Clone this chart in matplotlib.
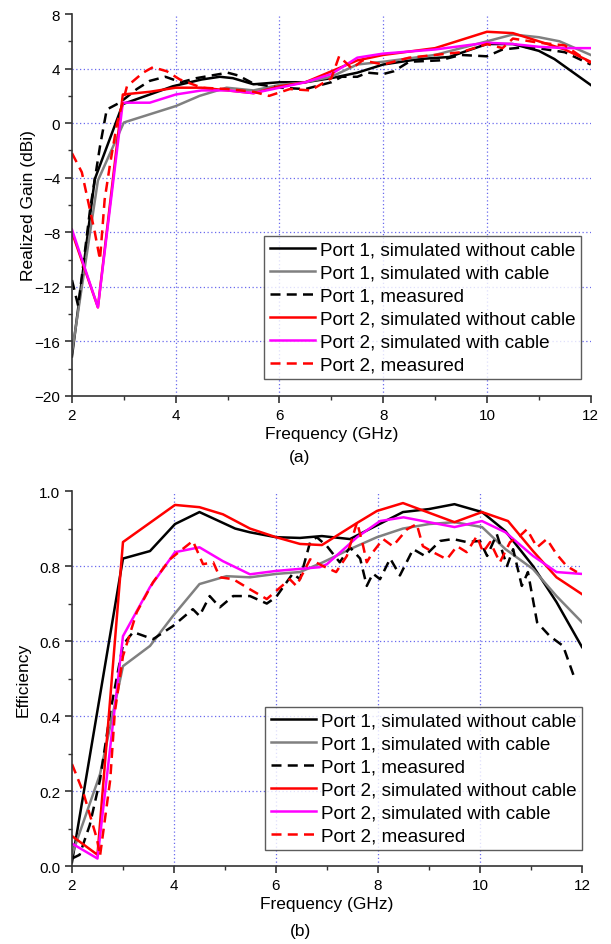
import numpy as np
import matplotlib
matplotlib.use('Agg')
import matplotlib.pyplot as plt
from matplotlib.ticker import MultipleLocator, FormatStrFormatter

plt.rcParams['font.family'] = ['Liberation Sans', 'DejaVu Sans']

labels = ['Port 1, simulated without cable', 'Port 1, simulated with cable',
          'Port 1, measured', 'Port 2, simulated without cable',
          'Port 2, simulated with cable', 'Port 2, measured']

# ---- (a) realized gain ----
g_p1_sim_f = [2, 2.44, 2.98, 3.5, 3.94, 4.5, 4.85, 5.1, 5.5, 6, 6.5, 7, 7.5, 8, 8.7, 9.27, 10, 10.5, 11, 11.3, 12]
g_p1_sim = [-17.1, -4.1, 1.4, 2.1, 2.7, 3.2, 3.4, 3.3, 2.85, 3.0, 3.0, 3.3, 3.7, 4.3, 4.7, 4.85, 5.8, 5.8, 5.3, 4.7, 2.8]

g_p1_cab_f = [2, 2.5, 3.0, 3.5, 4.0, 4.46, 4.98, 5.5, 6, 6.5, 7, 7.5, 8, 9, 10, 10.5, 11, 11.4, 12]
g_p1_cab = [-16.8, -4.2, 0.05, 0.65, 1.25, 2.0, 2.6, 2.4, 2.8, 3.0, 3.4, 4.3, 4.5, 5.0, 6.0, 6.5, 6.3, 6.0, 5.0]

g_p1_meas_f = [2, 2.12, 2.35, 2.54, 2.67, 2.92, 3.25, 3.5, 3.8, 4.1, 4.4, 4.7, 5.0, 5.2, 5.5, 6.0, 6.5, 7.0, 7.2, 7.5, 7.7,
               8.0, 8.2, 8.5, 9.08, 9.5, 10.0, 10.3, 10.8, 11.5, 12]
g_p1_meas = [-11.5, -13.4, -6.3, -1.7, 1.0, 1.5, 2.5, 3.1, 3.4, 3.0, 3.3, 3.5, 3.7, 3.5, 2.9, 2.6, 2.5, 3.0, 3.4, 3.4, 3.7,
             3.6, 3.8, 4.5, 4.6, 5.0, 4.9, 5.4, 5.6, 5.2, 4.3]

g_p2_sim_f = [2, 2.5, 2.98, 3.5, 4.0, 4.5, 5.0, 5.5, 6, 6.5, 7, 7.5, 8, 9, 10, 10.5, 11, 11.5, 12]
g_p2_sim = [-8.0, -13.5, 2.1, 2.3, 2.6, 2.6, 2.4, 2.2, 2.7, 3.0, 3.8, 4.6, 5.0, 5.5, 6.7, 6.6, 6.0, 5.4, 4.5]

g_p2_cab_f = [2, 2.5, 2.98, 3.5, 4.0, 4.5, 5.0, 5.5, 6, 6.5, 7, 7.5, 8, 9, 10, 10.5, 11, 11.5, 12]
g_p2_cab = [-7.8, -13.5, 1.5, 1.5, 2.1, 2.4, 2.4, 2.2, 2.6, 3.0, 3.6, 4.8, 5.1, 5.4, 5.9, 5.8, 5.6, 5.5, 5.5]

g_p2_meas_f = [2, 2.19, 2.44, 2.54, 2.63, 2.73, 2.87, 3.06, 3.37, 3.56, 3.83, 4.08, 4.5, 5.0, 5.5, 5.8, 6.2, 6.6, 7.0,
               7.15, 7.4, 7.6, 8.0, 8.5, 9.0, 9.5, 10.0, 10.3, 10.5, 11.0, 11.5, 12]
g_p2_meas = [-2.2, -3.6, -8.0, -10.0, -5.6, -3.1, 0.0, 2.7, 3.7, 4.1, 3.8, 3.2, 2.6, 2.5, 2.3, 2.0, 2.5, 2.4, 3.3,
             4.9, 4.0, 4.6, 4.3, 4.8, 5.0, 5.2, 5.8, 5.5, 6.2, 5.9, 5.7, 4.4]

# ---- (b) efficiency ----
e_p1_sim_f = [2, 3.0, 3.53, 4.02, 4.5, 5.2, 5.49, 6.0, 6.47, 6.9, 7.45, 8.0, 8.49, 9.0, 9.5, 10.04, 10.5, 11.04, 11.5, 12]
e_p1_sim = [0.01, 0.82, 0.84, 0.912, 0.944, 0.90, 0.89, 0.877, 0.875, 0.88, 0.872, 0.91, 0.944, 0.952, 0.965, 0.944,
            0.893, 0.80, 0.704, 0.584]

e_p1_cab_f = [2, 2.55, 3.0, 3.53, 3.98, 4.5, 5.03, 5.49, 6.0, 6.47, 6.92, 7.45, 7.98, 8.49, 9.0, 9.5, 10.04, 10.5,
              11.04, 11.5, 12]
e_p1_cab = [0.03, 0.245, 0.533, 0.587, 0.667, 0.752, 0.773, 0.77, 0.779, 0.784, 0.81, 0.845, 0.877, 0.9, 0.912, 0.917,
            0.904, 0.845, 0.792, 0.72, 0.65]

e_p1_meas_f = [2, 2.15, 2.35, 2.55, 2.75, 3.0, 3.2, 3.59, 3.98, 4.37, 4.5, 4.7, 4.9, 5.16, 5.49, 5.82, 6.0, 6.33, 6.47,
               6.67, 6.8, 7.0, 7.25, 7.45, 7.65, 7.78, 7.9, 8.04, 8.24, 8.43, 8.69, 8.92, 9.22, 9.47, 9.74, 10.0,
               10.14, 10.33, 10.53, 10.65, 10.82, 10.94, 11.12, 11.37, 11.63, 11.86]
e_p1_meas = [0.02, 0.03, 0.11, 0.23, 0.41, 0.59, 0.624, 0.605, 0.64, 0.685, 0.667, 0.72, 0.69, 0.72, 0.72, 0.70, 0.717,
             0.78, 0.765, 0.864, 0.877, 0.853, 0.81, 0.85, 0.82, 0.747, 0.78, 0.765, 0.82, 0.775, 0.845, 0.827,
             0.867, 0.872, 0.864, 0.867, 0.827, 0.885, 0.80, 0.845, 0.747, 0.784, 0.65, 0.613, 0.587, 0.499]

e_p2_sim_f = [2, 2.5, 3.0, 4.02, 4.5, 4.96, 5.49, 6.0, 6.47, 6.9, 7.59, 7.98, 8.49, 9.5, 10.04, 10.55, 11.04, 11.5, 12]
e_p2_sim = [0.08, 0.03, 0.864, 0.963, 0.957, 0.938, 0.90, 0.877, 0.859, 0.856, 0.915, 0.947, 0.968, 0.917, 0.944, 0.92,
            0.84, 0.77, 0.725]

e_p2_cab_f = [2, 2.5, 3.0, 3.53, 4.02, 4.5, 4.96, 5.49, 6.0, 6.86, 7.0, 7.59, 8.04, 8.5, 9.5, 10.04, 10.5, 11.04,
              11.5, 12]
e_p2_cab = [0.06, 0.02, 0.613, 0.744, 0.837, 0.85, 0.813, 0.778, 0.787, 0.797, 0.805, 0.877, 0.92, 0.93, 0.904, 0.92,
            0.89, 0.827, 0.784, 0.779]

e_p2_meas_f = [2, 2.22, 2.49, 2.55, 2.75, 2.84, 3.0, 3.27, 3.59, 3.92, 4.12, 4.37, 4.57, 4.77, 4.9, 5.16, 5.49, 5.82,
               6.27, 6.4, 6.67, 6.92, 7.18, 7.39, 7.59, 7.71, 7.78, 7.9, 8.1, 8.29, 8.57, 8.76, 8.88, 9.08, 9.35,
               9.55, 9.74, 9.94, 10.06, 10.2, 10.39, 10.59, 10.78, 10.92, 11.12, 11.31, 11.5, 11.7, 11.9]
e_p2_meas = [0.272, 0.197, 0.072, 0.027, 0.23, 0.41, 0.56, 0.677, 0.757, 0.818, 0.84, 0.867, 0.805, 0.81, 0.77, 0.765,
             0.738, 0.712, 0.765, 0.747, 0.818, 0.80, 0.784, 0.827, 0.917, 0.853, 0.81, 0.837, 0.872, 0.853, 0.898,
             0.912, 0.853, 0.837, 0.818, 0.853, 0.837, 0.88, 0.837, 0.864, 0.81, 0.864, 0.88, 0.898, 0.85, 0.872,
             0.832, 0.80, 0.784]

dash = (0, (4, 2.5))
styles = [dict(color='black', ls='-', lw=1.8),
          dict(color='#808080', ls='-', lw=1.8),
          dict(color='black', ls=dash, lw=1.8),
          dict(color='red', ls='-', lw=1.8),
          dict(color='#ff00ff', ls='-', lw=1.8),
          dict(color='red', ls=dash, lw=1.8)]

grid_col = '#6a6aee'


def style_axes(ax, ymajor, yminor, grid_y):
    ax.spines['top'].set_visible(False)
    ax.spines['right'].set_visible(False)
    for s in ['left', 'bottom']:
        ax.spines[s].set_linewidth(1.2)
        ax.spines[s].set_color('#333333')
    ax.xaxis.set_major_locator(MultipleLocator(2))
    ax.xaxis.set_minor_locator(MultipleLocator(1))
    ax.yaxis.set_major_locator(MultipleLocator(ymajor))
    ax.yaxis.set_minor_locator(MultipleLocator(yminor))
    ax.tick_params(which='major', direction='out', length=5, width=1.2, labelsize=11, color='#333333')
    ax.tick_params(which='minor', direction='out', length=3, width=1.0, color='#333333')
    for xv in [4, 6, 8, 10]:
        ax.axvline(xv, color=grid_col, ls=(0, (1, 2)), lw=0.9, zorder=0)
    for yv in grid_y:
        ax.axhline(yv, color=grid_col, ls=(0, (1, 2)), lw=0.9, zorder=0)


def add_legend(ax, anchor):
    leg = ax.legend(loc='lower right', bbox_to_anchor=anchor, fontsize=13.6, frameon=True, fancybox=False,
                    edgecolor='#333333', handlelength=2.4, handletextpad=0.25, labelspacing=0.3,
                    borderpad=0.3, borderaxespad=0)
    leg.get_frame().set_linewidth(1.0)
    return leg


fig = plt.figure(figsize=(6.11, 9.45), dpi=100)

ax1 = fig.add_axes([0.1178, 0.5799, 0.849, 0.4042])
gain_data = [(g_p1_sim_f, g_p1_sim), (g_p1_cab_f, g_p1_cab), (g_p1_meas_f, g_p1_meas),
             (g_p2_sim_f, g_p2_sim), (g_p2_cab_f, g_p2_cab), (g_p2_meas_f, g_p2_meas)]
for (f, v), st, lab in zip(gain_data, styles, labels):
    ax1.plot(f, v, label=lab, **st)
ax1.set_xlim(2, 12)
ax1.set_ylim(-20, 8)
style_axes(ax1, 4, 2, [4, 0, -4, -8, -12, -16])
ax1.set_ylabel('Realized Gain (dBi)', fontsize=12.5, labelpad=-1)
ax1.set_xlabel('Frequency (GHz)', fontsize=12.5, labelpad=3)
add_legend(ax1, (0.981, 0.045))
fig.text(0.491, 1 - 458 / 945, '(a)', ha='center', va='center', fontsize=12.5)

ax2 = fig.add_axes([0.1178, 0.0825, 0.8347, 0.3968])
eff_data = [(e_p1_sim_f, e_p1_sim), (e_p1_cab_f, e_p1_cab), (e_p1_meas_f, e_p1_meas),
            (e_p2_sim_f, e_p2_sim), (e_p2_cab_f, e_p2_cab), (e_p2_meas_f, e_p2_meas)]
for (f, v), st, lab in zip(eff_data, styles, labels):
    ax2.plot(f, v, label=lab, **st)
ax2.set_xlim(2, 12)
ax2.set_ylim(0, 1.0)
style_axes(ax2, 0.2, 0.1, [0.2, 0.4, 0.6, 0.8])
ax2.yaxis.set_major_formatter(FormatStrFormatter('%.1f'))
ax2.set_ylabel('Efficiency', fontsize=12.5, labelpad=6)
ax2.set_xlabel('Frequency (GHz)', fontsize=12.5, labelpad=3)
add_legend(ax2, (1.0, 0.043))
fig.text(0.491, 1 - 932 / 945, '(b)', ha='center', va='center', fontsize=12.5)

fig.savefig('out.png', dpi=100)
